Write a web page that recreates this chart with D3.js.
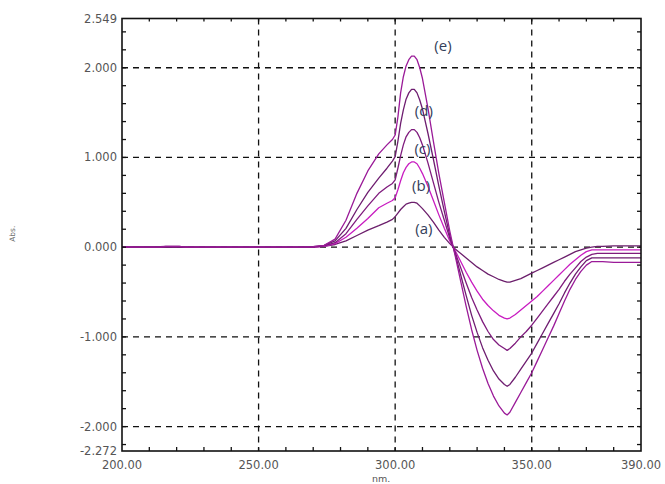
<!DOCTYPE html>
<html>
<head>
<meta charset="utf-8">
<script src="https://cdn.jsdelivr.net/npm/d3@7"></script>
<style>
  html, body { margin: 0; padding: 0; background: #fff; }
  svg { display: block; }
</style>
</head>
<body>
<svg id="chart" width="665" height="484"></svg>
<script>
// Wavelength grid (nm) shared by all spectra
const wavelengths = [200, 214, 216, 221, 223, 250, 266, 270, 274,
  278, 282, 286, 290, 294, 297, 299, 300,
  301, 302, 303, 304, 305, 306, 307, 308, 309, 310,
  312, 314, 316, 318, 320,
  322, 324, 326, 328, 330, 332, 334, 336, 338, 340, 341,
  342, 344, 346, 348, 350, 352, 354, 356, 358, 360, 362, 364, 366, 368, 370, 372,
  374, 376, 380, 385, 390];

// Derivative absorbance of each solution
const seriesA = [0, 0.005, 0.01, 0.01, 0, 0, 0, 0, 0.01,
  0.03, 0.07, 0.13, 0.19, 0.24, 0.28, 0.31, 0.34,
  0.38, 0.42, 0.45, 0.48, 0.49, 0.50, 0.50, 0.49, 0.46, 0.43,
  0.36, 0.28, 0.19, 0.11, 0.04,
  -0.02, -0.07, -0.12, -0.17, -0.22, -0.26, -0.30, -0.33, -0.36, -0.38, -0.39,
  -0.39, -0.37, -0.35, -0.32, -0.29, -0.26, -0.23, -0.20, -0.17, -0.14, -0.11, -0.08, -0.05, -0.03, -0.01, 0.00,
  0.01, 0.01, 0.015, 0.015, 0.015];
const seriesB = [0, 0, 0, 0, 0, 0, 0, 0, 0.01,
  0.04, 0.11, 0.21, 0.32, 0.44, 0.49, 0.52, 0.55,
  0.64, 0.74, 0.83, 0.89, 0.93, 0.95, 0.95, 0.93, 0.88, 0.82,
  0.68, 0.52, 0.36, 0.21, 0.07,
  -0.04, -0.16, -0.28, -0.39, -0.49, -0.58, -0.65, -0.71, -0.76, -0.79, -0.80,
  -0.79, -0.75, -0.70, -0.65, -0.60, -0.55, -0.49, -0.43, -0.37, -0.31, -0.25, -0.19, -0.14, -0.09, -0.05, -0.03,
  -0.03, -0.03, -0.03, -0.03, -0.03];
const seriesC = [0, 0, 0, 0, 0, 0, 0, 0, 0.015,
  0.05, 0.15, 0.31, 0.46, 0.60, 0.67, 0.71, 0.75,
  0.88, 1.02, 1.14, 1.23, 1.28, 1.31, 1.31, 1.28, 1.22, 1.14,
  0.94, 0.72, 0.50, 0.30, 0.10,
  -0.06, -0.23, -0.40, -0.56, -0.70, -0.83, -0.94, -1.03, -1.09, -1.13, -1.15,
  -1.13, -1.07, -1.00, -0.94, -0.87, -0.79, -0.71, -0.63, -0.55, -0.47, -0.38, -0.30, -0.23, -0.16, -0.11, -0.08,
  -0.07, -0.07, -0.07, -0.07, -0.07];
const seriesD = [0, 0, 0, 0, 0, 0, 0, 0.005, 0.02,
  0.07, 0.21, 0.42, 0.61, 0.77, 0.88, 0.96, 1.01,
  1.18, 1.38, 1.53, 1.65, 1.72, 1.76, 1.76, 1.72, 1.64, 1.54,
  1.27, 0.98, 0.68, 0.40, 0.13,
  -0.08, -0.31, -0.54, -0.76, -0.95, -1.12, -1.26, -1.38, -1.47, -1.53, -1.55,
  -1.53, -1.45, -1.36, -1.27, -1.18, -1.07, -0.96, -0.85, -0.74, -0.63, -0.51, -0.40, -0.30, -0.22, -0.15, -0.12,
  -0.12, -0.12, -0.12, -0.12, -0.12];
const seriesE = [0, 0, 0.01, 0.01, 0, 0, 0, 0.005, 0.02,
  0.09, 0.30, 0.60, 0.85, 1.04, 1.14, 1.20, 1.25,
  1.45, 1.72, 1.90, 2.02, 2.09, 2.13, 2.13, 2.09, 2.00, 1.88,
  1.55, 1.18, 0.82, 0.50, 0.18,
  -0.10, -0.38, -0.66, -0.92, -1.15, -1.35, -1.52, -1.66, -1.77, -1.85, -1.87,
  -1.84, -1.73, -1.62, -1.51, -1.40, -1.27, -1.14, -1.01, -0.88, -0.74, -0.60, -0.47, -0.36, -0.27, -0.20, -0.16,
  -0.16, -0.16, -0.17, -0.17, -0.17];

const seriesNames = ["(a)", "(b)", "(c)", "(d)", "(e)"];
const seriesValues = [seriesA, seriesB, seriesC, seriesD, seriesE];
const seriesColors = ["#6c1f6c", "#c81cc0", "#7f1b7d", "#6e1d70", "#9a1a98"];
// Label anchor points in data units (nm, Abs.)
const labelNm = [310.5, 309.5, 310, 310.5, 317.5];
const labelAbs = [0.2, 0.69, 1.1, 1.52, 2.25];

const xDomain = [200, 390];
const yDomain = [-2.272, 2.549];
const xTickLabels = [200, 250, 300, 350, 390];
const yTickLabels = [-2.272, -2, -1, 0, 1, 2, 2.549];
const xGrid = [250, 300, 350];
const yGrid = [-2, -1, 0, 1, 2];

const svg = d3.select("#chart");
const plotLeft = 122, plotRight = 641, plotTop = 18.5, plotBottom = 451;

const x = d3.scaleLinear().domain(xDomain).range([plotLeft, plotRight]);
const y = d3.scaleLinear().domain(yDomain).range([plotBottom, plotTop]);

// dashed grid
const grid = svg.append("g").attr("stroke", "#111").attr("stroke-width", 1.3)
  .attr("stroke-dasharray", "6,5");
grid.selectAll("line.gx").data(xGrid).join("line")
  .attr("x1", d => x(d)).attr("x2", d => x(d))
  .attr("y1", plotTop).attr("y2", plotBottom);
grid.selectAll("line.gy").data(yGrid).join("line")
  .attr("x1", plotLeft).attr("x2", plotRight)
  .attr("y1", d => y(d)).attr("y2", d => y(d));

// spectra
const line = d3.line()
  .x((d, i) => x(wavelengths[i]))
  .y(d => y(d));
svg.append("g").selectAll("path").data(seriesValues).join("path")
  .attr("d", d => line(d))
  .attr("fill", "none")
  .attr("stroke", (d, i) => seriesColors[i])
  .attr("stroke-width", 1.3)
  .attr("stroke-linejoin", "round");

// frame with inward minor ticks
const minorX = d3.range(210, 390, 10);
const minorY = d3.range(-22, 26, 2).map(v => v / 10);
const axisG = svg.append("g").attr("stroke", "#111");

axisG.append("rect")
  .attr("x", plotLeft).attr("y", plotTop)
  .attr("width", plotRight - plotLeft).attr("height", plotBottom - plotTop)
  .attr("fill", "none").attr("stroke-width", 1.6);

axisG.selectAll("line.bx").data(minorX).join("line")
  .attr("x1", d => x(d)).attr("x2", d => x(d))
  .attr("y1", plotBottom).attr("y2", plotBottom - 4).attr("stroke-width", 1.3);
axisG.selectAll("line.tx").data(minorX).join("line")
  .attr("x1", d => x(d)).attr("x2", d => x(d))
  .attr("y1", plotTop).attr("y2", plotTop + 3).attr("stroke-width", 1.3);
axisG.selectAll("line.ly").data(minorY).join("line")
  .attr("x1", plotLeft).attr("x2", plotLeft + 4)
  .attr("y1", d => y(d)).attr("y2", d => y(d)).attr("stroke-width", 1.3);
axisG.selectAll("line.ry").data(minorY).join("line")
  .attr("x1", plotRight).attr("x2", plotRight - 4)
  .attr("y1", d => y(d)).attr("y2", d => y(d)).attr("stroke-width", 1.3);

// tick labels (plain hyphen for negatives)
const fmtY = d => d3.format(".3f")(d).replace("\u2212", "-");
const fmtX = d => d3.format(".2f")(d);
const labelFont = "DejaVu Sans, Verdana, sans-serif";
svg.append("g").selectAll("text").data(yTickLabels).join("text")
  .attr("x", plotLeft - 5).attr("y", d => y(d))
  .attr("dy", "0.35em")
  .attr("text-anchor", "end")
  .attr("font-family", labelFont).attr("font-size", 11.5)
  .attr("fill", "#555")
  .text(fmtY);

svg.append("g").selectAll("text").data(xTickLabels).join("text")
  .attr("x", d => x(d)).attr("y", 469)
  .attr("text-anchor", "middle")
  .attr("font-family", labelFont).attr("font-size", 11.5)
  .attr("fill", "#555")
  .text(fmtX);

// axis titles
svg.append("text")
  .attr("x", x(300) - 14).attr("y", 482)
  .attr("text-anchor", "middle")
  .attr("font-family", labelFont).attr("font-size", 9.5)
  .attr("fill", "#555")
  .text("nm.");
svg.append("text")
  .attr("transform", `translate(15,${y(0.15)}) rotate(-90)`)
  .attr("text-anchor", "middle")
  .attr("font-family", labelFont).attr("font-size", 7.5)
  .attr("fill", "#666")
  .text("Abs.");

// curve labels
svg.append("g").selectAll("text").data(seriesNames).join("text")
  .attr("x", (d, i) => x(labelNm[i]))
  .attr("y", (d, i) => y(labelAbs[i]))
  .attr("text-anchor", "middle")
  .attr("dy", "0.35em")
  .attr("font-family", "Open Sans, sans-serif").attr("font-size", 15)
  .attr("fill", "#34405a")
  .text(d => d);
</script>
</body>
</html>
